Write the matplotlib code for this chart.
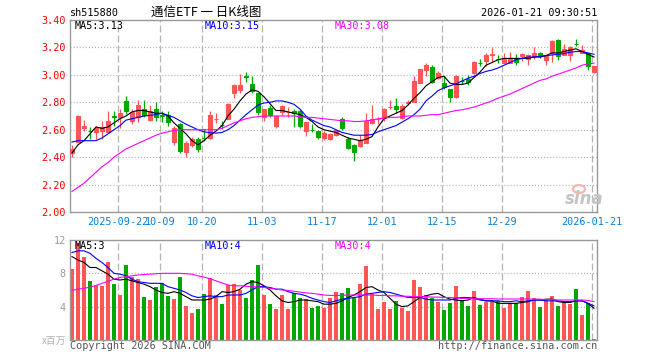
import numpy as np
import matplotlib
matplotlib.use('Agg')
import matplotlib.pyplot as plt
from matplotlib.patches import Ellipse

plt.rcParams['font.family'] = ['DejaVu Sans Mono', 'Noto Sans CJK SC']
plt.rcParams['lines.scale_dashes'] = False

# ---- values (one entry per trading day) ----
tick_pos = [8, 15, 22, 32, 42, 52, 62, 72, 87]
tick_lbl = ['2025-09-22', '10-09', '10-20', '11-03', '11-17',
            '12-01', '12-15', '12-29', '2026-01-21']

open_ = [2.43, 2.51, 2.61, 2.59, 2.58, 2.59, 2.58, 2.70, 2.69, 2.81,
         2.66, 2.69, 2.75, 2.67, 2.75, 2.705, 2.71, 2.51, 2.64, 2.435,
         2.49, 2.53, 2.54, 2.54, 2.678, 2.635, 2.68, 2.865, 2.89, 2.99,
         2.93, 2.865, 2.69, 2.755, 2.627, 2.73, 2.728, 2.74, 2.74, 2.59,
         2.60, 2.588, 2.537, 2.534, 2.558, 2.68, 2.534, 2.49, 2.48, 2.505,
         2.646, 2.678, 2.688, 2.766, 2.773, 2.688, 2.798, 2.80, 2.944, 3.037,
         3.06, 2.976, 2.944, 2.90, 2.84, 2.957, 2.973, 3.01, 3.086, 3.10,
         3.148, 3.116, 3.09, 3.09, 3.12, 3.14, 3.115, 3.14, 3.158, 3.11,
         3.158, 3.254, 3.144, 3.144, 3.225, 3.163, 3.158, 3.022]
high = [2.49, 2.71, 2.67, 2.62, 2.63, 2.66, 2.74, 2.74, 2.75, 2.846,
        2.754, 2.82, 2.817, 2.78, 2.80, 2.74, 2.74, 2.627, 2.646, 2.517,
        2.549, 2.549, 2.607, 2.737, 2.724, 2.66, 2.792, 2.93, 3.005, 3.024,
        2.99, 2.866, 2.754, 2.78, 2.705, 2.778, 2.766, 2.749, 2.749, 2.656,
        2.641, 2.588, 2.59, 2.573, 2.60, 2.695, 2.549, 2.495, 2.558, 2.724,
        2.78, 2.695, 2.761, 2.82, 2.834, 2.785, 2.82, 2.993, 3.046, 3.085,
        3.07, 3.029, 2.993, 2.90, 2.998, 2.988, 2.998, 3.10, 3.115, 3.158,
        3.20, 3.144, 3.158, 3.168, 3.15, 3.163, 3.15, 3.20, 3.168, 3.15,
        3.254, 3.261, 3.224, 3.212, 3.261, 3.217, 3.163, 3.066]
low = [2.40, 2.51, 2.59, 2.53, 2.53, 2.53, 2.58, 2.627, 2.615, 2.712,
       2.64, 2.656, 2.695, 2.66, 2.663, 2.656, 2.627, 2.485, 2.427, 2.40,
       2.476, 2.436, 2.517, 2.529, 2.651, 2.605, 2.675, 2.83, 2.866, 2.95,
       2.866, 2.71, 2.66, 2.69, 2.615, 2.71, 2.695, 2.622, 2.61, 2.554,
       2.58, 2.534, 2.525, 2.522, 2.554, 2.60, 2.461, 2.37, 2.476, 2.50,
       2.64, 2.641, 2.663, 2.749, 2.724, 2.68, 2.78, 2.80, 2.944, 2.993,
       2.944, 2.968, 2.895, 2.80, 2.834, 2.932, 2.925, 3.005, 3.061, 3.066,
       3.095, 3.09, 3.085, 3.09, 3.07, 3.10, 3.07, 3.115, 3.12, 3.07,
       3.095, 3.105, 3.144, 3.10, 3.212, 3.158, 3.037, 3.017]
close = [2.46, 2.70, 2.63, 2.588, 2.61, 2.62, 2.66, 2.69, 2.72, 2.74,
         2.73, 2.78, 2.71, 2.74, 2.69, 2.70, 2.655, 2.61, 2.445, 2.505,
         2.53, 2.46, 2.538, 2.71, 2.68, 2.633, 2.785, 2.925, 2.925, 2.988,
         2.883, 2.73, 2.75, 2.71, 2.70, 2.773, 2.73, 2.725, 2.627, 2.656,
         2.598, 2.549, 2.573, 2.566, 2.595, 2.612, 2.466, 2.436, 2.522, 2.66,
         2.676, 2.68, 2.754, 2.768, 2.749, 2.773, 2.80, 2.956, 3.04, 3.07,
         2.95, 3.017, 2.912, 2.84, 2.993, 2.955, 2.949, 3.095, 3.084, 3.144,
         3.15, 3.114, 3.12, 3.12, 3.095, 3.154, 3.144, 3.163, 3.134, 3.144,
         3.249, 3.14, 3.188, 3.205, 3.223, 3.183, 3.066, 3.066]

ma5 = [2.43, 2.49, 2.52, 2.57, 2.62, 2.61, 2.62, 2.65, 2.68, 2.70,
       2.73, 2.74, 2.74, 2.73, 2.72, 2.72, 2.70, 2.65, 2.61, 2.57,
       2.52, 2.49, 2.52, 2.56, 2.59, 2.63, 2.70, 2.75, 2.81, 2.86,
       2.89, 2.88, 2.84, 2.79, 2.74, 2.74, 2.73, 2.72, 2.71, 2.69,
       2.66, 2.62, 2.60, 2.59, 2.58, 2.56, 2.54, 2.53, 2.52, 2.53,
       2.55, 2.62, 2.68, 2.70, 2.72, 2.74, 2.78, 2.83, 2.87, 2.92,
       2.95, 2.98, 2.99, 2.94, 2.93, 2.93, 2.94, 2.98, 3.02, 3.07,
       3.09, 3.11, 3.12, 3.12, 3.12, 3.12, 3.12, 3.13, 3.13, 3.14,
       3.16, 3.16, 3.17, 3.18, 3.19, 3.17, 3.15, 3.13]
ma10 = [2.51, 2.52, 2.52, 2.52, 2.52, 2.54, 2.57, 2.60, 2.63, 2.67,
        2.68, 2.69, 2.70, 2.705, 2.71, 2.72, 2.705, 2.69, 2.665, 2.64,
        2.62, 2.60, 2.585, 2.578, 2.575, 2.58, 2.60, 2.63, 2.67, 2.71,
        2.745, 2.78, 2.795, 2.80, 2.81, 2.81, 2.80, 2.785, 2.75, 2.70,
        2.67, 2.65, 2.63, 2.62, 2.60, 2.58, 2.57, 2.56, 2.56, 2.56,
        2.565, 2.585, 2.60, 2.615, 2.63, 2.655, 2.68, 2.71, 2.75, 2.81,
        2.845, 2.885, 2.905, 2.92, 2.935, 2.955, 2.975, 2.99, 3.01, 3.025,
        3.035, 3.05, 3.07, 3.09, 3.11, 3.12, 3.13, 3.13, 3.135, 3.14,
        3.145, 3.15, 3.155, 3.165, 3.17, 3.17, 3.16, 3.15]
ma30 = [2.15, 2.18, 2.21, 2.25, 2.29, 2.33, 2.36, 2.40, 2.43, 2.46,
        2.48, 2.50, 2.52, 2.54, 2.56, 2.575, 2.585, 2.595, 2.60, 2.60,
        2.60, 2.60, 2.60, 2.60, 2.60, 2.61, 2.63, 2.65, 2.665, 2.68,
        2.69, 2.695, 2.70, 2.70, 2.70, 2.70, 2.70, 2.70, 2.695, 2.69,
        2.69, 2.685, 2.68, 2.675, 2.67, 2.665, 2.665, 2.66, 2.66, 2.665,
        2.67, 2.68, 2.685, 2.69, 2.69, 2.695, 2.70, 2.70, 2.70, 2.705,
        2.71, 2.71, 2.72, 2.73, 2.74, 2.745, 2.755, 2.765, 2.78, 2.795,
        2.81, 2.83, 2.845, 2.86, 2.88, 2.90, 2.92, 2.94, 2.96, 2.97,
        2.99, 3.005, 3.02, 3.035, 3.05, 3.07, 3.08, 3.085]

# volume, x 1,000,000
vol = [8.5, 11.6, 10.0, 7.1, 6.6, 6.5, 9.4, 6.7, 5.4, 9.0,
       7.6, 7.3, 5.2, 4.8, 6.4, 6.8, 5.3, 4.9, 7.6, 4.1,
       3.2, 3.7, 5.5, 7.5, 5.4, 4.3, 6.6, 6.7, 6.0, 5.1,
       7.2, 9.0, 5.4, 4.3, 3.7, 5.4, 3.7, 5.6, 5.0, 4.9,
       3.9, 4.1, 3.9, 5.1, 5.8, 5.7, 6.3, 5.0, 6.7, 8.9,
       5.5, 3.7, 4.6, 3.7, 4.7, 3.9, 3.5, 7.2, 6.4, 5.4,
       5.1, 4.6, 3.6, 4.5, 6.5, 4.8, 4.1, 5.9, 4.2, 4.6,
       4.7, 4.7, 3.9, 4.4, 4.4, 5.2, 5.9, 5.0, 4.0, 4.9,
       5.3, 4.1, 4.4, 4.3, 6.1, 3.0, 4.4, 0.1]
vma5 = [10.0, 9.6, 9.3, 8.7, 8.7, 8.3, 7.9, 7.3, 7.2, 7.3,
        7.1, 6.9, 6.7, 6.4, 6.0, 5.7, 5.6, 5.8, 5.6, 5.2,
        4.8, 4.8, 4.8, 4.9, 5.2, 5.8, 5.7, 5.8, 6.1, 6.7,
        7.0, 6.9, 6.5, 6.0, 5.3, 4.7, 4.5, 4.6, 4.8, 4.8,
        4.7, 4.6, 4.3, 4.3, 4.4, 4.7, 5.1, 5.4, 5.8, 6.3,
        6.4, 6.0, 5.7, 5.0, 4.3, 4.0, 4.1, 4.6, 5.1, 5.3,
        5.5, 5.6, 5.2, 4.9, 4.8, 4.7, 4.8, 5.1, 4.9, 4.7,
        4.7, 4.4, 4.4, 4.4, 4.4, 4.5, 4.6, 4.8, 4.8, 4.9,
        4.9, 4.6, 4.5, 4.5, 4.7, 4.7, 4.4, 3.8]
vma10 = [10.5, 10.7, 10.7, 10.4, 9.8, 9.3, 8.7, 8.0, 7.9, 7.7,
         7.3, 7.0, 6.9, 6.8, 6.8, 6.8, 6.4, 6.2, 6.0, 5.7,
         5.3, 5.1, 5.2, 5.3, 5.2, 5.2, 5.4, 5.4, 5.4, 5.6,
         6.0, 6.4, 6.4, 6.3, 6.1, 6.1, 5.8, 5.6, 5.5, 5.3,
         5.0, 4.8, 4.6, 4.5, 4.7, 4.9, 5.0, 5.1, 5.2, 5.5,
         5.6, 5.7, 5.8, 5.7, 5.5, 5.3, 5.1, 5.1, 5.1, 4.9,
         4.8, 4.8, 4.8, 4.8, 5.0, 5.1, 5.1, 5.0, 4.8, 4.7,
         4.7, 4.7, 4.6, 4.6, 4.7, 4.6, 4.7, 4.8, 4.8, 4.7,
         4.7, 4.7, 4.6, 4.6, 4.7, 4.7, 4.4, 4.1]
vma30 = [5.95, 6.1, 6.2, 6.35, 6.55, 6.8, 7.05, 7.3, 7.5, 7.6,
         7.7, 7.8, 7.85, 7.9, 7.95, 8.0, 8.0, 8.0, 8.0, 7.95,
         7.9, 7.7, 7.55, 7.35, 7.1, 6.85, 6.6, 6.5, 6.5, 6.45,
         6.4, 6.35, 6.3, 6.2, 6.1, 6.0, 5.95, 5.85, 5.75, 5.65,
         5.6, 5.5, 5.4, 5.35, 5.35, 5.35, 5.4, 5.4, 5.4, 5.4,
         5.4, 5.35, 5.35, 5.3, 5.3, 5.25, 5.25, 5.2, 5.2, 5.2,
         5.15, 5.15, 5.1, 5.1, 5.05, 5.0, 5.0, 4.95, 4.95, 4.95,
         4.95, 4.92, 4.92, 4.92, 4.92, 4.92, 4.92, 4.9, 4.9, 4.85,
         4.85, 4.8, 4.8, 4.8, 4.8, 4.8, 4.75, 4.6]

RED = '#ff5555'
GREEN = '#00a800'
GRID = '#b4b4b4'
BORDER = '#999999'

o = np.array(open_)
c = np.array(close)
x = np.arange(len(o))
col = np.where(c >= o, RED, GREEN)

W, H = 660, 360
def fx(px):
    return px / W
def fy(py):
    return 1 - py / H

fig = plt.figure(figsize=(6.6, 3.6), dpi=100)
ax1 = fig.add_axes([fx(70), fy(212), 527 / W, 192 / H])
ax2 = fig.add_axes([fx(70), fy(340), 527 / W, 100 / H])

for ax in (ax1, ax2):
    ax.set_xlim(-1 / 3, 87.5)
    for s in ax.spines.values():
        s.set_color(BORDER)
        s.set_linewidth(1.0)
    for p in tick_pos:
        ax.axvline(p - 1 / 3, color=GRID, lw=0.9, ls=(0, (5, 2.2)), zorder=0)
    ax.tick_params(length=0)

# price panel
ax1.set_ylim(2.0, 3.4)
for v in [2.2, 2.4, 2.6, 2.8, 3.0, 3.2]:
    ax1.axhline(v, color=GRID, lw=0.9, ls=(0, (0.8, 1.4)), zorder=0)
ax1.vlines(x, low, high, color=col, lw=0.9, zorder=2)
ax1.bar(x, np.abs(c - o), bottom=np.minimum(o, c), width=0.62,
        color=col, edgecolor=col, linewidth=0.8, zorder=3)
ax1.plot(x, ma5, color='black', lw=0.8, zorder=4)
ax1.plot(x, ma10, color='#0000ff', lw=0.8, zorder=4)
ax1.plot(x, ma30, color='#ff00ff', lw=0.8, zorder=4)

yt = [2.0, 2.2, 2.4, 2.6, 2.8, 3.0, 3.2, 3.4]
ax1.set_yticks(yt)
ax1.set_yticklabels(['%.2f' % v for v in yt], color='#ff0000', fontsize=7.3)
ax1.tick_params(axis='y', pad=3)
ax1.set_xticks([p - 1 / 3 for p in tick_pos])
ax1.set_xticklabels(tick_lbl, color='#0a80d8', fontsize=7.3)
ax1.tick_params(axis='x', pad=3.5)

# volume panel
ax2.set_ylim(0, 12)
for v in [4, 8]:
    ax2.axhline(v, color=GRID, lw=0.9, ls=(0, (0.8, 1.4)), zorder=0)
ax2.bar(x, vol, width=0.8, color=col, zorder=2)
ax2.plot(x, vma5, color='black', lw=0.8, zorder=4)
ax2.plot(x, vma10, color='#0000ff', lw=0.8, zorder=4)
ax2.plot(x, vma30, color='#ff00ff', lw=0.8, zorder=4)
ax2.set_yticks([4, 8, 12])
ax2.set_yticklabels(['4', '8', '12'], color='#999999', fontsize=7.3)
ax2.tick_params(axis='y', pad=3)
ax2.set_xticks([])

# header texts
fig.text(fx(70), fy(13), 'sh515880', fontsize=7.3, va='center', ha='left')
fig.text(fx(151), fy(12), '通信ETF 一 日K线图', fontsize=9, va='center', ha='left',
         family=['Noto Sans CJK SC', 'DejaVu Sans'])
fig.text(fx(597), fy(13), '2026-01-21 09:30:51', fontsize=7.3, va='center', ha='right')

# MA labels
for ypx, labels in [(26, ['MA5:3.13', 'MA10:3.15', 'MA30:3.08']),
                    (246, ['MA5:3', 'MA10:4', 'MA30:4'])]:
    for xpx, t, cc in zip([75, 205, 335], labels, ['black', '#0000ff', '#ff00ff']):
        fig.text(fx(xpx), fy(ypx), t, color=cc, fontsize=7.3, va='center', ha='left')

# footer
fig.text(fx(66), fy(341), 'x百万', color='#b0b0b0', fontsize=7, va='center', ha='right',
         family=['Noto Sans CJK SC', 'DejaVu Sans'])
fig.text(fx(70), fy(346), 'Copyright 2026 SINA.COM', color='#555555', fontsize=7.3,
         va='center', ha='left')
fig.text(fx(597), fy(346), 'http://finance.sina.com.cn', color='#555555', fontsize=7.3,
         va='center', ha='right')

# sina watermark
fig.text(fx(565), fy(199), 'sina', color='#c4c4c4', fontsize=12, fontweight='bold',
         fontstyle='italic', va='center', ha='left', family='DejaVu Sans')
fig.patches.append(Ellipse((fx(579), fy(189)), 12 / W, 8 / H, transform=fig.transFigure,
                           facecolor='none', edgecolor='#f5b5b5', lw=1.6))

fig.savefig('out.png', dpi=100)
